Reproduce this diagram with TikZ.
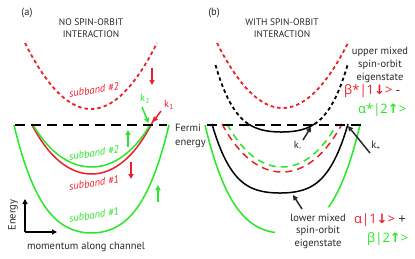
\documentclass[tikz,border=0pt]{standalone}
\usepackage{fontspec}
\setmainfont{PT Sans}
\newfontfamily\grk{Open Sans}
\newfontfamily\dvs{DejaVu Sans}
\usetikzlibrary{arrows.meta}
\definecolor{grn}{RGB}{40,230,40}
\definecolor{rd}{RGB}{237,30,45}
\definecolor{txt}{RGB}{40,40,40}
\newcommand{\dn}{{\dvs\bfseries ↓}}
\newcommand{\up}{{\dvs\bfseries ↑}}
\begin{document}
\begin{tikzpicture}[x=1pt,y=-1pt,
  declare function={ush(\u,\w)=\w*\u*\u+(1-\w)*\u*\u*\u*\u;},
  curve/.style={line width=1.5pt},
  dotline/.style={line width=1.8pt, dash pattern=on 3.5pt off 3pt},
  dashline/.style={line width=1.5pt, dash pattern=on 7pt off 5pt},
  fermi/.style={line width=2pt, dash pattern=on 10pt off 6pt},
  arr/.style={line width=1.5pt, -{Triangle[length=5pt,width=5pt]}},
  lbl/.style={font=\fontsize{10.5}{13}\selectfont, text=txt, inner sep=0pt},
  ttl/.style={font=\fontsize{9.5}{12}\selectfont, text=txt, inner sep=0pt, align=center},
  sublbl/.style={font=\fontsize{10.5}{11}\selectfont\itshape, rotate=8, inner sep=0pt},
  state/.style={font=\fontsize{13}{15}\selectfont\grk, inner sep=0pt, anchor=west}
]
\useasboundingbox (0,0) rectangle (415,258);

% ---------- panel (a) ----------
\node[lbl] (pa) at (27,13) {(a)};
\node[ttl] (ta) at (91,28) {NO SPIN-ORBIT\\INTERACTION};

\draw[rd, dotline] plot[domain=-66:66, samples=60] ({91+\x},{109-66*ush(\x/66,1)});
\draw[grn, curve] plot[domain=-77.5:77.5, samples=80] ({91.5+\x},{233-108*ush(\x/77.5,0.5)});
\draw[rd, curve] plot[domain=-59.5:63.5, samples=70] ({91.5+\x},{174-49*ush(\x/59.5,0.85)});
\draw[grn, curve] plot[domain=-58.5:58.5, samples=70] ({91.5+\x},{167-42*ush(\x/58.5,0.85)});

\coordinate (fa1) at (15,124.5);
\coordinate (fa2) at (167,124.5);
\draw[fermi] (fa1) -- (fa2);

\node[sublbl, rd] (s2r) at (94,90) {subband \#2};
\node[sublbl, grn] (s2g) at (94,153) {subband \#2};
\node[sublbl, rd] (s1r) at (94,183) {subband \#1};
\node[sublbl, grn] (s1g) at (94,215) {subband \#1};

% spin arrows
\coordinate (r1a) at (152,68);  \coordinate (r1b) at (152,85);
\coordinate (g1a) at (128,147); \coordinate (g1b) at (128,130);
\coordinate (r2a) at (131,162); \coordinate (r2b) at (131,179);
\coordinate (g2a) at (158,202); \coordinate (g2b) at (158,185);
\draw[arr, rd] (r1a) -- (r1b);
\draw[arr, grn] (g1a) -- (g1b);
\draw[arr, rd] (r2a) -- (r2b);
\draw[arr, grn] (g2a) -- (g2b);

% k labels
\node[lbl, grn] (k2) at (145,99) {k\textsubscript{2}};
\node[lbl, rd] (k1) at (169,105) {k\textsubscript{1}};
\coordinate (k2a) at (142,107); \coordinate (k2b) at (148.5,123);
\coordinate (k1a) at (161,111); \coordinate (k1b) at (153,122);
\draw[arr, grn] (k2a) -- (k2b);
\draw[arr, rd] (k1a) -- (k1b);

\node[lbl, anchor=west, align=left, font=\fontsize{10.5}{14}\selectfont] (fe) at (175,136) {Fermi\\energy};

% axes
\coordinate (o) at (25,232);
\coordinate (ey) at (25,199);
\coordinate (ex) at (57,232);
\draw[arr, black] (o) -- (ey);
\draw[arr, black] (o) -- (ex);
\node[lbl, rotate=90] (en) at (13,215) {Energy};
\node[lbl] (mo) at (86,247) {momentum along channel};

% ---------- panel (b) ----------
\node[lbl] (pb) at (214,13) {(b)};
\node[ttl] (tb) at (282,28) {WITH SPIN-ORBIT\\INTERACTION};

\draw[rd, dotline] plot[domain=-65.5:65.5, samples=60] ({282.5+\x},{108-65*ush(\x/65.5,1)});
\draw[black, dotline] plot[domain=-66:-33, samples=30] ({281.5+\x},{132-67*ush(\x/66,0.3)});
\draw[black, curve] plot[domain=-33:33, samples=30] ({281.5+\x},{132-67*ush(\x/66,0.3)});
\draw[black, dotline] plot[domain=33:66, samples=30] ({281.5+\x},{132-67*ush(\x/66,0.3)});
\draw[rd, dashline] plot[domain=-60:60, samples=70] ({282+\x},{172-48*ush(\x/60,0.85)});
\draw[grn, dashline] plot[domain=-55:55, samples=70] ({282+\x},{167-43*ush(\x/55,0.85)});
\draw[black, curve] plot[domain=-68:68, samples=80] ({280+\x},{193-69*ush(\x/68,0.3)});
\draw[grn, curve] plot[domain=-77.5:-7.5, samples=50] ({282.5+\x},{233-108*ush(\x/77.5,0.5)});
\draw[grn, curve] plot[domain=46:77.5, samples=30] ({282.5+\x},{233-108*ush(\x/77.5,0.5)});

\coordinate (fb1) at (207,124.5);
\coordinate (fb2) at (362,124.5);
\draw[fermi] (fb1) -- (fb2);

\node[lbl, align=center] (um) at (380,65) {upper mixed\\spin-orbit\\eigenstate};
\node[state] (st1) at (344,91) {\color{rd}β*|1\dn>\ \color{txt}-};
\node[state] (st2) at (358,110) {\color{grn}α*|2\up>};

\node[lbl, align=center, font=\fontsize{10.5}{12.5}\selectfont] (lm) at (318,231) {lower mixed\\spin-orbit\\eigenstate};
\node[state] (st3) at (354,220) {\color{rd}α|1\dn>\ \color{txt}+};
\node[state] (st4) at (367,239) {\color{grn}β|2\up>};

\node[lbl] (km) at (298,146) {k\textsubscript{-}};
\node[lbl] (kp) at (376,146) {k\textsubscript{+}};
\coordinate (kma) at (303,140); \coordinate (kmb) at (311,127);
\coordinate (kpa) at (370,153); \coordinate (kpb) at (348,126);
\coordinate (lma) at (302,209); \coordinate (lmb) at (293,195);
\draw[arr, txt] (kma) -- (kmb);
\draw[arr, txt] (kpa) -- (kpb);
\draw[arr, txt] (lma) -- (lmb);
\end{tikzpicture}
\end{document}
